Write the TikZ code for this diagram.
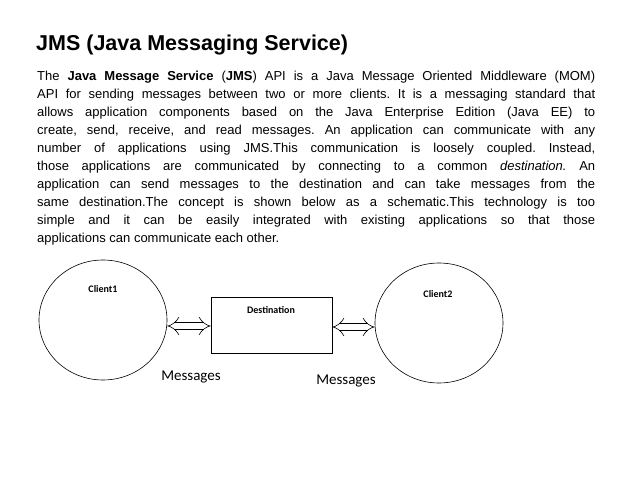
\documentclass[tikz,border=0pt]{standalone}
\usepackage{fontspec}
\setmainfont{Liberation Sans}
\newfontfamily\calfont{Carlito}
\usetikzlibrary{arrows.meta,shapes.geometric}
\begin{document}
\frenchspacing
\begin{tikzpicture}[x=1pt,y=-1pt,
  client/.style={draw,ellipse,line width=0.6pt,minimum width=128pt,minimum height=120pt},
  lbl/.style={font=\calfont\bfseries\fontsize{10}{12}\selectfont},
  msg/.style={font=\calfont\fontsize{15}{17}\selectfont},
  conn/.style={double distance=6pt,line width=0.6pt,{Implies[length=6pt,width=12pt]}-{Implies[length=6pt,width=12pt]}}]
\useasboundingbox (0,0) rectangle (638,479);
\node[anchor=west,inner sep=0pt,font=\bfseries\fontsize{21.5}{24}\selectfont] (title) at (36,45) {JMS (Java Messaging Service)};
\node[anchor=north west,inner sep=0pt,text width=558pt,align=justify,font=\fontsize{13}{18}\selectfont] (para) at (37,71) {The \textbf{Java Message Service} (\textbf{JMS}) API is a Java Message Oriented Middleware (MOM)\linebreak
API for sending messages between two or more clients. It is a messaging standard that\linebreak
allows application components based on the Java Enterprise Edition (Java EE) to\linebreak
create, send, receive, and read messages. An application can communicate with any\linebreak
number of applications using JMS.This communication is loosely coupled. Instead,\linebreak
those applications are communicated by connecting to a common \textit{destination.} An\linebreak
application can send messages to the destination and can take messages from the\linebreak
same destination.The concept is shown below as a schematic.This technology is too\linebreak
simple and it can be easily integrated with existing applications so that those\linebreak
applications can communicate each other.};
\node[client] (c1) at (103,320) {};
\node[client] (c2) at (439,323) {};
\node[draw,line width=0.6pt,minimum width=121pt,minimum height=56pt] (dest) at (271.5,325) {};
\node[lbl] (l1) at (103,289) {Client1};
\node[lbl] (l2) at (438,294) {Client2};
\node[lbl] (ld) at (271,310) {Destination};
\node[msg] (m1) at (191,377) {Messages};
\node[msg] (m2) at (346,381) {Messages};
\draw[conn] (c1.east |- 0,326) -- (dest.west |- 0,326);
\draw[conn] (dest.east |- 0,327) -- (c2.west |- 0,327);
\end{tikzpicture}
\end{document}
